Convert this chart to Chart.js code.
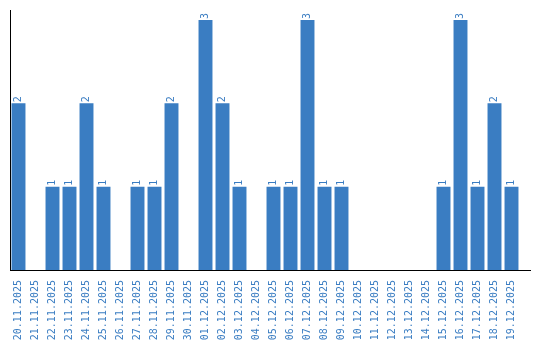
<!DOCTYPE html>
<html>
<head>
<meta charset="utf-8">
<script src="https://cdn.jsdelivr.net/npm/chart.js@4"></script>
<style>
  html, body { margin: 0; padding: 0; background: #fff; }
  #wrap { width: 540px; height: 340px; }
</style>
</head>
<body>
<div id="wrap"><canvas id="chart" width="540" height="340"></canvas></div>
<script>
// dates shown on the x axis
const dates = [
  '20.11.2025', '21.11.2025', '22.11.2025', '23.11.2025', '24.11.2025',
  '25.11.2025', '26.11.2025', '27.11.2025', '28.11.2025', '29.11.2025',
  '30.11.2025', '01.12.2025', '02.12.2025', '03.12.2025', '04.12.2025',
  '05.12.2025', '06.12.2025', '07.12.2025', '08.12.2025', '09.12.2025',
  '10.12.2025', '11.12.2025', '12.12.2025', '13.12.2025', '14.12.2025',
  '15.12.2025', '16.12.2025', '17.12.2025', '18.12.2025', '19.12.2025'
];
// count per day
const counts = [2, 0, 1, 1, 2, 1, 0, 1, 1, 2, 0, 3, 2, 1, 0, 1, 1, 3, 1, 1, 0, 0, 0, 0, 0, 1, 3, 1, 2, 1];

const blue = '#3a7dc2';

// value labels above bars, rotated
const valueLabels = {
  id: 'valueLabels',
  afterDatasetsDraw(chart) {
    const ctx = chart.ctx;
    const meta = chart.getDatasetMeta(0);
    ctx.save();
    ctx.fillStyle = blue;
    ctx.font = '10px "DejaVu Sans Mono"';
    ctx.textAlign = 'left';
    ctx.textBaseline = 'middle';
    meta.data.forEach((bar, i) => {
      if (!counts[i]) return;
      ctx.save();
      ctx.translate(bar.x, bar.y - 1);
      ctx.rotate(-Math.PI / 2);
      ctx.fillText(String(counts[i]), 0, 0);
      ctx.restore();
    });
    ctx.restore();
  }
};

// bottom axis line runs a bit past the last bar
const axisTail = {
  id: 'axisTail',
  afterDraw(chart) {
    const { ctx, chartArea } = chart;
    ctx.save();
    ctx.strokeStyle = '#000';
    ctx.lineWidth = 1;
    ctx.beginPath();
    ctx.moveTo(chartArea.right, chartArea.bottom + 0.5);
    ctx.lineTo(531, chartArea.bottom + 0.5);
    ctx.stroke();
    ctx.restore();
  }
};

new Chart(document.getElementById('chart'), {
  type: 'bar',
  data: {
    labels: dates,
    datasets: [{
      data: counts,
      backgroundColor: blue,
      borderWidth: 0,
      categoryPercentage: 1,
      barPercentage: 0.82
    }]
  },
  options: {
    responsive: false,
    animation: false,
    layout: { padding: { left: 10, top: 10, right: 20, bottom: 0 } },
    plugins: { legend: { display: false }, tooltip: { enabled: false } },
    scales: {
      x: {
        grid: { display: false },
        border: { color: '#000', width: 1 },
        ticks: {
          color: blue,
          font: { family: 'DejaVu Sans Mono', size: 10 },
          minRotation: 90,
          maxRotation: 90,
          autoSkip: false,
          padding: 2
        },
        afterFit: s => { s.height = 70; }
      },
      y: {
        min: 0,
        max: 3.12,
        grid: { display: false },
        border: { color: '#000', width: 1 },
        ticks: { display: false },
        afterFit: s => { s.width = 0; }
      }
    }
  },
  plugins: [valueLabels, axisTail]
});
</script>
</body>
</html>
